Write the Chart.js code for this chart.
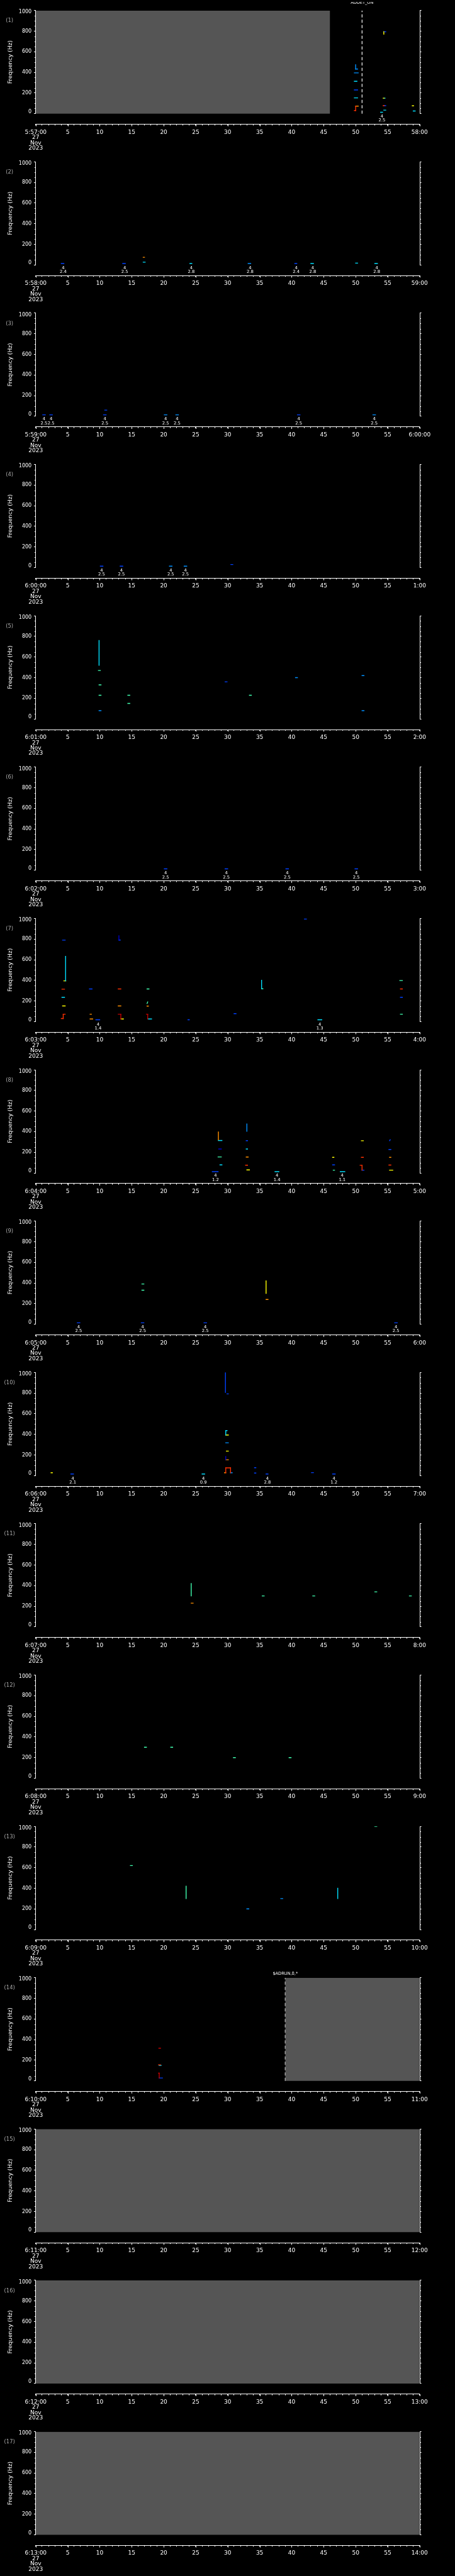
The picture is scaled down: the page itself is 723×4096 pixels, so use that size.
<!DOCTYPE html>
<html><head><meta charset="utf-8">
<script src="https://cdn.jsdelivr.net/npm/chart.js@4.4.0/dist/chart.umd.min.js"></script>
<style>
html,body{margin:0;padding:0;background:#000;}
body{width:723px;height:4096px;position:relative;overflow:hidden;}
.p{position:absolute;left:0;width:723px;}
canvas{display:block;}
</style></head><body>
<script>
// ---------------- data ----------------
const panelNames = ["(1)","(2)","(3)","(4)","(5)","(6)","(7)","(8)","(9)","(10)","(11)","(12)","(13)","(14)","(15)","(16)","(17)"];
const panelStarts = ["5:57:00","5:58:00","5:59:00","6:00:00","6:01:00","6:02:00","6:03:00","6:04:00","6:05:00","6:06:00","6:07:00","6:08:00","6:09:00","6:10:00","6:11:00","6:12:00","6:13:00"];
const panelEnds = ["58:00","59:00","6:00:00","1:00","2:00","3:00","4:00","5:00","6:00","7:00","8:00","9:00","10:00","11:00","12:00","13:00","14:00"];
const midTickLabels = ["5","10","15","20","25","30","35","40","45","50","55"];
const dateLines = ["27","Nov","2023"];
const freqTicks = [0,200,400,600,800,1000];
const freqMinor = [50,100,150,250,300,350,450,500,550,650,700,750,850,900,950];
const yTitle = "Frequency (Hz)";

// gray (no data) spans [t0, t1] in seconds
const grayP1 = [[0,46]];
const grayP14 = [[39,60]];
const grayP15 = [[0,60]];
const grayP16 = [[0,60]];
const grayP17 = [[0,60]];

// events [t, label]
const eventP1 = [[51,"ADDET_ON"]];
const eventP14 = [[39,"$ADRUN,0,*"]];

// annotations [t, line1, line2]
const annP1 = [[54.1,"4","2.5"]];
const annP2 = [[4.3,"4","2.4"],[13.9,"4","2.5"],[24.3,"4","2.8"],[33.5,"4","2.8"],[40.7,"4","2.4"],[43.3,"4","2.8"],[53.3,"4","2.8"]];
const annP3 = [[1.3,"4","2.5"],[2.4,"4","2.5"],[10.8,"4","2.5"],[20.3,"4","2.5"],[22.1,"4","2.5"],[41.1,"4","2.5"],[52.9,"4","2.5"]];
const annP4 = [[10.3,"4","2.5"],[13.4,"4","2.5"],[21.1,"4","2.5"],[23.4,"4","2.5"]];
const annP5 = [];
const annP6 = [[20.3,"4","2.5"],[29.8,"4","2.5"],[39.3,"4","2.5"],[50.1,"4","2.5"]];
const annP7 = [[9.75,"4","1.4"],[44.4,"4","1.3"]];
const annP8 = [[28.1,"4","1.2"],[37.7,"4","1.4"],[47.9,"4","1.1"]];
const annP9 = [[6.7,"4","2.5"],[16.7,"4","2.5"],[26.5,"4","2.5"],[56.3,"4","2.5"]];
const annP10 = [[5.8,"4","2.1"],[26.2,"4","0.9"],[36.2,"4","2.8"],[46.6,"4","1.2"]];
const annP11 = [];
const annP12 = [];
const annP13 = [];
const annP14 = [];
const annP15 = [];
const annP16 = [];
const annP17 = [];

// spectrogram marks [t0, f0, t1, f1, level(0..8)]
const marksP1 = [
 [50.0,433,50.0,474,2],[50.0,433,50.3,433,2],[49.8,395,50.4,395,2],[49.8,314,50.2,314,3],
 [49.8,230,50.3,230,1],[49.8,153,50.3,153,3],[50.0,30,50.0,73,7],[50.0,73,50.4,73,6],[49.8,30,50.0,30,7],
 [54.4,770,54.4,794,5],[54.4,794,54.7,794,1],[54.3,150,54.45,150,5],[54.45,150,54.6,150,3],
 [54.3,77,54.45,77,7],[54.45,77,54.7,77,1],[54.4,34,54.7,34,3],[53.9,13,54.2,13,3],
 [58.85,76,59.05,76,5],[59.0,26,59.3,26,3]
];
const marksP2 = [
 [4.0,14,4.4,14,1],[13.6,14,14.0,14,1],[16.8,74,17.0,74,6],[16.8,27,17.1,27,3],[24.1,14,24.4,14,3],
 [33.2,14,33.6,14,2],[40.5,14,40.8,14,1],[43.0,14,43.4,14,3],[50.0,18,50.3,18,3],[53.0,14,53.4,14,3]
];
const marksP3 = [[1.1,14,1.5,14,1],[2.2,14,2.6,14,1],[10.6,14,11.0,14,1],[10.8,60,11.1,60,1],[20.1,14,20.5,14,2],[21.9,14,22.3,14,2],[40.9,14,41.3,14,1],[52.7,14,53.1,14,2]];
const marksP4 = [[10.1,14,10.5,14,1],[13.2,14,13.6,14,1],[20.9,14,21.3,14,2],[23.2,14,23.6,14,2],[30.5,30,30.8,30,1]];
const marksP5 = [
 [9.9,520,9.9,760,3],[9.8,470,10.1,470,4],[9.9,330,10.2,330,4],[9.9,230,10.2,230,4],[9.9,80,10.2,80,2],
 [14.4,230,14.7,230,4],[14.4,150,14.7,150,4],[29.6,360,29.9,360,1],[33.4,230,33.7,230,4],[40.6,400,40.9,400,2],
 [51.0,420,51.3,420,2],[51.0,80,51.3,80,2]
];
const marksP6 = [[20.1,14,20.5,14,1],[29.6,14,30.0,14,1],[39.1,14,39.5,14,1],[49.9,14,50.3,14,1]];
const marksP7 = [
 [4.2,790,4.6,790,1],[4.67,395,4.67,633,3],[4.4,395,4.7,395,5],[4.1,314,4.5,314,7],[4.1,236,4.5,236,3],
 [4.2,152,4.6,152,5],[4.3,30,4.3,72,7],[4.3,72,4.6,72,7],[4.0,30,4.3,30,7],
 [8.4,316,8.8,316,1],[8.5,72,8.7,72,6],[8.5,25,8.9,25,6],[9.4,18,10.0,18,1],
 [13.0,791,13.0,832,0],[13.0,791,13.2,791,1],[12.9,316,13.3,316,7],[12.9,152,13.3,152,6],
 [13.3,25,13.3,72,8],[12.9,72,13.3,72,8],[13.3,25,13.7,25,5],
 [17.4,316,17.7,316,4],[17.4,175,17.5,190,4],[17.4,150,17.6,150,6],[17.5,25,17.5,72,8],[17.3,72,17.5,72,8],[17.5,25,18.1,25,3],
 [23.8,18,24.0,18,1],[31.0,77,31.3,77,1],[35.3,318,35.3,401,3],[35.3,318,35.5,318,4],[42.0,995,42.3,995,1],
 [44.1,18,44.7,18,3],[56.9,398,57.3,398,4],[57.0,316,57.3,316,7],[57.0,236,57.3,236,1],[57.0,72,57.3,72,4]
];
const marksP8 = [
 [27.6,12,28.5,12,1],[28.55,321,28.55,396,6],[28.55,314,29.1,314,3],[28.6,232,29.0,232,0],[28.5,155,29.0,155,4],[28.8,78,29.1,78,3],
 [33.0,403,33.0,475,2],[32.9,313,33.1,313,1],[32.9,232,33.1,232,3],[32.9,154,33.2,154,6],[32.8,75,33.1,75,7],[33.0,29,33.4,29,5],
 [37.4,12,38.0,12,3],[46.4,151,46.6,151,5],[46.4,78,46.7,78,1],[46.5,27,46.7,27,4],[47.6,12,48.3,12,3],
 [50.9,312,51.2,312,5],[50.9,151,51.2,151,7],[51.0,27,51.0,74,7],[50.7,74,51.0,74,7],[51.0,27,51.3,27,1],
 [55.3,312,55.4,322,1],[55.2,227,55.5,227,1],[55.3,151,55.5,151,6],[55.2,76,55.5,76,7],[55.3,27,55.8,27,5]
];
const marksP9 = [[6.5,14,6.9,14,1],[16.5,14,16.9,14,1],[16.6,390,16.9,390,4],[16.6,330,16.9,330,4],[26.3,14,26.7,14,1],[36.0,300,36.0,420,5],[36.0,240,36.3,240,6],[56.1,14,56.5,14,1]];
const marksP10 = [
 [2.4,27,2.6,27,5],[5.5,15,5.9,15,1],[26.0,15,26.4,15,3],
 [29.65,806,29.65,997,1],[29.9,792,30.1,792,1],[29.7,393,29.7,436,3],[29.7,436,29.9,436,3],[29.7,393,30.1,393,5],
 [29.7,318,30.1,318,2],[29.8,237,30.1,237,5],[29.7,153,29.7,185,0],[29.7,153,30.1,153,6],
 [29.7,27,29.7,75,7],[29.7,75,30.45,75,7],[30.45,27,30.45,75,7],[29.5,27,29.7,27,6],[30.45,27,30.7,27,2],
 [34.2,76,34.4,76,1],[34.2,24,34.4,24,1],[36.0,15,36.3,15,1],[43.1,28,43.4,28,1],[46.4,15,46.8,15,1]
];
const marksP11 = [[24.3,300,24.3,420,4],[24.3,230,24.6,230,6],[35.4,300,35.7,300,4],[43.3,300,43.6,300,4],[53.0,340,53.3,340,4],[58.4,300,58.7,300,4]];
const marksP12 = [[17.0,300,17.3,300,4],[21.1,300,21.4,300,4],[30.9,200,31.2,200,4],[39.6,200,39.9,200,4]];
const marksP13 = [[14.8,620,15.1,620,4],[23.5,300,23.5,420,4],[33.0,200,33.3,200,2],[38.3,300,38.6,300,2],[47.2,300,47.2,400,3],[53.0,1000,53.3,1000,4]];
const marksP14 = [[19.25,317,19.5,317,8],[19.2,156,19.5,156,7],[19.3,150,19.6,150,3],[19.3,28,19.3,74,8],[19.2,74,19.3,74,8],[19.3,28,19.8,28,1]];
const marksP15 = [];
const marksP16 = [];
const marksP17 = [];

const grays = [grayP1,[],[],[],[],[],[],[],[],[],[],[],[],grayP14,grayP15,grayP16,grayP17];
const events = [eventP1,[],[],[],[],[],[],[],[],[],[],[],[],eventP14,[],[],[]];
const anns = [annP1,annP2,annP3,annP4,annP5,annP6,annP7,annP8,annP9,annP10,annP11,annP12,annP13,annP14,annP15,annP16,annP17];
const marks = [marksP1,marksP2,marksP3,marksP4,marksP5,marksP6,marksP7,marksP8,marksP9,marksP10,marksP11,marksP12,marksP13,marksP14,marksP15,marksP16,marksP17];

// ---------------- style / layout ----------------
const S = 0.705;
const FONT = "'DejaVu Sans', 'Liberation Sans', sans-serif";
const cmap = ['#0000c8','#0040ff','#0090ff','#00e0ff','#40ffb0','#ffff00','#ff9000','#ff3000','#c00000'];
const PERIOD = 341.3, FIRST_TOP = 23.7, PLOT_H = 232.6, AXIS_GAP = 256.5, TOP_PAD = 20;
const Y_MIN = -(AXIS_GAP - PLOT_H) / PLOT_H * 1000;

const deco = {
  id: 'deco',
  afterDraw(chart, args, o) {
    const {ctx, chartArea: a} = chart;
    const x = chart.scales.x, y = chart.scales.y;
    const y0 = y.getPixelForValue(0), y1 = y.getPixelForValue(1000);
    ctx.save();
    ctx.strokeStyle = '#fff'; ctx.lineWidth = 1;
    const ln = (xa, ya, xb, yb) => { ctx.beginPath(); ctx.moveTo(xa, ya); ctx.lineTo(xb, yb); ctx.stroke(); };
    const L = Math.round(a.left) - 0.5, R = Math.round(a.right) + 0.5;
    ln(L, y0, L, y1); ln(R, y0, R, y1);
    freqMinor.forEach(f => { const p = Math.round(y.getPixelForValue(f)) + 0.5; ln(L - 1.6, p, L, p); ln(R, p, R + 1.6, p); });
    for (let t = 0; t <= 60; t += 5) { const p = Math.round(x.getPixelForValue(t)) + 0.5; ln(p, a.bottom, p, a.bottom + 3.2); }
    ctx.fillStyle = '#fff';
    ctx.font = `8px ${FONT}`; ctx.textAlign = 'right'; ctx.textBaseline = 'middle';
    ctx.fillText('1000', a.left - 6.6, y1 + 3.8 * S);
    ctx.fillText('0', a.left - 6.6, y0 - 4.2 * S);
    ctx.save();
    ctx.translate(23.2 * S, y.getPixelForValue(500));
    ctx.rotate(-Math.PI / 2);
    ctx.font = `9.2px ${FONT}`; ctx.textAlign = 'center'; ctx.textBaseline = 'middle';
    ctx.fillText(yTitle, 0, 0);
    ctx.restore();
    ctx.fillStyle = '#a8a8a8'; ctx.font = `8.4px ${FONT}`; ctx.textAlign = 'center'; ctx.textBaseline = 'middle';
    ctx.fillText(o.name, 21.5 * S, y1 + 23.3 * S);
    ctx.fillStyle = '#fff'; ctx.font = `6.8px ${FONT}`;
    o.anns.forEach(([t, l1, l2]) => {
      const p = x.getPixelForValue(t);
      ctx.fillText(l1, p, y0 + 6.6 * S);
      ctx.fillText(l2, p, y0 + 15.6 * S);
    });
    o.events.forEach(([t, lab]) => {
      const p = x.getPixelForValue(t);
      ctx.font = `6.6px ${FONT}`;
      ctx.fillText(lab, p, y1 - (o.index === 0 ? 17.4 : 8.6) * S);
    });
    ctx.restore();
  }
};

function makePanel(i) {
  const T = FIRST_TOP + i * PERIOD;
  const top = Math.round((T - TOP_PAD) * S);
  const H = Math.round(PERIOD * S);
  const div = document.createElement('div');
  div.className = 'p'; div.style.top = top + 'px'; div.style.height = H + 'px';
  const cv = document.createElement('canvas');
  cv.width = 723; cv.height = H; cv.style.width = '723px'; cv.style.height = H + 'px';
  div.appendChild(cv); document.body.appendChild(div);
  const padTop = T * S - top;
  const areaH = AXIS_GAP * S;
  const xAxisH = H - padTop - areaH;

  const datasets = [];
  grays[i].forEach(([a, b]) => datasets.push({
    data: [{x: a, y: 1000}, {x: b, y: 1000}], showLine: true, fill: {value: 0},
    backgroundColor: '#555555', borderWidth: 0, pointRadius: 0
  }));
  events[i].forEach(([t]) => datasets.push({
    data: [{x: t, y: 0}, {x: t, y: 1000}], showLine: true, borderColor: '#ffffff',
    borderWidth: 1.2, borderDash: [5, 3.5], pointRadius: 0
  }));
  marks[i].forEach(([t0, f0, t1, f1, lv]) => datasets.push({
    data: [{x: t0, y: f0}, {x: t1, y: f1}], showLine: true, borderColor: cmap[lv],
    borderWidth: 1.4, pointRadius: 0, borderCapStyle: 'square'
  }));

  const yAxis = (pos) => ({
    type: 'linear', position: pos, min: Y_MIN, max: 1000,
    afterFit: s => { s.width = (pos === 'left' ? 80.5 : 1024 - 944.3) * S; },
    afterBuildTicks: s => { s.ticks = freqTicks.map(v => ({value: v})); },
    ticks: {display: pos === 'left', color: '#fff', font: {family: FONT, size: 8}, padding: 3.8,
            callback: v => (v === 0 || v === 1000) ? '' : String(v)},
    grid: {display: true, drawOnChartArea: false, drawTicks: true, tickLength: 2.8, tickColor: '#fff', color: '#fff', tickWidth: 1},
    border: {display: false}
  });

  new Chart(cv, {
    type: 'scatter',
    data: {datasets},
    options: {
      responsive: false, animation: false, devicePixelRatio: 1, events: [],
      layout: {padding: {top: padTop, left: 0, right: 0, bottom: 0}},
      plugins: {legend: {display: false}, tooltip: {enabled: false},
        deco: {name: panelNames[i], anns: anns[i], events: events[i], index: i}},
      scales: {
        x: {
          type: 'linear', min: 0, max: 60, position: 'bottom',
          afterFit: s => { s.height = xAxisH; },
          afterBuildTicks: s => { s.ticks = Array.from({length: 61}, (_, k) => ({value: k})); },
          ticks: {autoSkip: false, maxRotation: 0, minRotation: 0, color: '#fff',
            font: {family: FONT, size: 9, lineHeight: 0.94}, padding: 6.6,
            callback: v => {
              if (v === 0) return [panelStarts[i], ...dateLines];
              if (v === 60) return panelEnds[i];
              if (v % 5 === 0) return midTickLabels[v / 5 - 1];
              return '';
            }},
          grid: {display: true, drawOnChartArea: false, drawTicks: true, tickLength: 1.9, tickColor: '#fff', color: '#fff', tickWidth: 1},
          border: {display: true, color: '#fff', width: 1}
        },
        y: yAxis('left'),
        y2: yAxis('right')
      }
    },
    plugins: [deco]
  });
}
for (let i = 0; i < 17; i++) makePanel(i);
</script>
</body></html>
